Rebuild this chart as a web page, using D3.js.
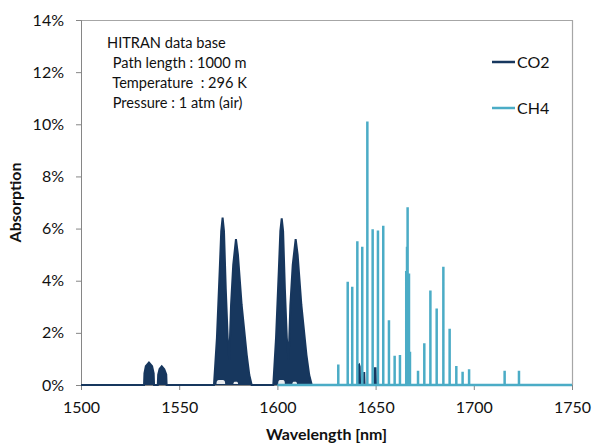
<!DOCTYPE html>
<html>
<head>
<meta charset="utf-8">
<script src="https://cdn.jsdelivr.net/npm/d3@7"></script>
<style>
  body { margin: 0; background: #fff; }
  svg text { font-family: Lato, "Open Sans", sans-serif; fill: #111; }
</style>
</head>
<body>
<div id="chart"></div>
<script>
// x ticks and y ticks
var xTicks = [1500, 1550, 1600, 1650, 1700, 1750];
var yTicks = [0, 2, 4, 6, 8, 10, 12, 14];

// CO2 envelope points [wavelength nm, absorption %]
var co2Band153 = [
    [1532.1, 0], [1532.3, 0.45], [1533.0, 0.72], [1534.6, 0.86], [1536.2, 0.72], [1537.0, 0.45], [1537.2, 0],
    [1539.1, 0], [1539.3, 0.4], [1540.0, 0.62], [1541.1, 0.72], [1542.4, 0.6], [1543.4, 0.4], [1543.6, 0]
];
var co2Band157 = [
    [1567.7, 0], [1569.2, 1.8], [1570.6, 4.35], [1571.4, 5.9], [1572.1, 6.42], [1572.8, 5.9], [1573.7, 3.7],
    [1574.7, 1.8], [1575.5, 0.96], [1576.4, 3.07], [1577.5, 4.6], [1578.9, 5.6], [1579.9, 5.0], [1581.8, 3.07],
    [1584.4, 1.15], [1585.7, 0.38], [1586.9, 0]
];
var co2Band160 = [
    [1597.9, 0], [1599.3, 1.8], [1600.7, 4.35], [1601.5, 5.9], [1602.2, 6.39], [1602.9, 5.9], [1603.8, 3.7],
    [1604.8, 1.8], [1605.7, 0.96], [1606.6, 3.07], [1607.8, 4.6], [1609.3, 5.6], [1610.3, 5.0], [1612.2, 3.07],
    [1614.8, 1.15], [1616.2, 0.38], [1617.5, 0]
];
var co2Weak = [
    [1641.0, 0], [1641.2, 0.75], [1641.6, 0.78], [1641.9, 0.7], [1642.1, 0],
    [1644.1, 0], [1644.2, 0.5], [1644.4, 0],
    [1649.4, 0], [1649.6, 0.64], [1650.0, 0.64], [1650.2, 0]
];
// sparse spots at the band centres: [from nm, to nm, height %]
var co2Gaps = [[1569.0, 1573.4, 0.19], [1577.6, 1580.0, 0.12], [1600.4, 1603.8, 0.19], [1607.6, 1610.0, 0.12]];

// CH4 lines
var ch4Wavelength = [1631.0, 1635.8, 1638.1, 1640.7, 1643.2, 1645.8, 1648.5, 1651.2, 1653.9, 1656.8,
    1659.7, 1662.4, 1665.6, 1666.0, 1666.3, 1667.0, 1667.5, 1671.6, 1674.8, 1677.9,
    1681.1, 1684.5, 1687.7, 1691.1, 1694.3, 1697.6, 1715.7, 1723.0];
var ch4Absorption = [0.79, 3.96, 3.77, 5.51, 5.30, 10.11, 5.97, 5.93, 6.11, 2.48,
    1.12, 1.15, 4.37, 5.30, 6.82, 4.28, 1.28, 0.55, 1.60, 3.62,
    2.93, 4.54, 2.16, 0.73, 0.51, 0.60, 0.55, 0.55];

var infoLines = ["HITRAN data base", " Path length : 1000 m", " Temperature  : 296 K", " Pressure : 1 atm (air)"];

var co2Color = "#17375E", ch4Color = "#4BACC6";

var margin = {top: 20, right: 20, bottom: 58, left: 81},
    width = 592 - margin.left - margin.right,
    height = 443 - margin.top - margin.bottom;

var svg = d3.select("#chart")
    .append("svg")
        .attr("width", 592)
        .attr("height", 443)
    .append("g")
        .attr("transform", "translate(" + margin.left + "," + margin.top + ")");

var x = d3.scaleLinear().domain([1500, 1750]).range([0, width]);
var y = d3.scaleLinear().domain([0, 14]).range([height, 0]);

// plot frame (top and right)
svg.append("path")
    .attr("d", "M0,0.5H" + (width + 0.5) + "V" + height)
    .attr("fill", "none")
    .attr("stroke", "#A6A6A6")
    .attr("stroke-width", 1.2);

var xAxis = svg.append("g")
    .attr("transform", "translate(0," + height + ")")
    .call(d3.axisBottom(x).tickValues(xTicks).tickSize(5).tickPadding(12).tickFormat(d3.format("d")));
var yAxis = svg.append("g")
    .call(d3.axisLeft(y).tickValues(yTicks).tickSize(5).tickPadding(12).tickFormat(d => d + "%"));

[xAxis, yAxis].forEach(function(a) {
    a.select(".domain").attr("stroke", "#868686");
    a.selectAll(".tick line").attr("stroke", "#868686");
    a.selectAll("text").style("font-size", "16px").attr("fill", "#111");
});

// CO2 series
var co2Data = [[1500, 0]].concat(co2Band153, co2Band157, co2Band160, co2Weak, [[1670, 0]]);
svg.append("path")
    .datum(co2Data)
    .attr("fill", co2Color)
    .attr("d", d3.area().x(d => x(d[0])).y0(y(0)).y1(d => y(d[1])));
svg.append("path")
    .datum(co2Data)
    .attr("fill", "none")
    .attr("stroke", co2Color)
    .attr("stroke-width", 2)
    .attr("d", d3.line().x(d => x(d[0])).y(d => y(d[1])));

// light notches at the band bottoms
svg.append("g").selectAll("path")
    .data(co2Gaps)
    .enter()
    .append("path")
    .attr("fill", "#fff")
    .attr("opacity", 0.9)
    .attr("d", g => d3.area().curve(d3.curveBasis).x(d => x(d[0])).y0(y(0) - 1).y1(d => y(d[1]))(
        [[g[0], 0], [g[0], g[2]], [(g[0] + g[1]) / 2, g[2]], [g[1], g[2]], [g[1], 0]]));

// CH4 series: baseline with narrow spikes
var ch4Data = [[1600, 0]];
ch4Wavelength.forEach(function(w, i) {
    ch4Data.push([w, 0], [w, ch4Absorption[i]], [w, 0]);
});
ch4Data.push([1750, 0]);
svg.append("path")
    .datum(ch4Data)
    .attr("fill", "none")
    .attr("stroke", ch4Color)
    .attr("stroke-width", 2.5)
    .attr("stroke-linejoin", "bevel")
    .attr("d", d3.line().x(d => x(d[0])).y(d => y(d[1])));

// info text
svg.append("g").selectAll("text")
    .data(infoLines)
    .enter()
    .append("text")
    .attr("x", (d, i) => i === 0 ? 26 : 28)
    .attr("y", (d, i) => 28 + i * 20)
    .style("font-size", "14.6px")
    .style("white-space", "pre")
    .text(d => d);

// legend
var legend = svg.append("g").selectAll("g")
    .data([["CO2", co2Color], ["CH4", ch4Color]])
    .enter()
    .append("g")
    .attr("transform", (d, i) => "translate(411," + (42 + i * 46) + ")");
legend.append("line")
    .attr("x1", 0).attr("x2", 23)
    .attr("stroke", d => d[1])
    .attr("stroke-width", 2.5);
legend.append("text")
    .attr("x", 25)
    .attr("y", 6)
    .style("font-size", "16px")
    .text(d => d[0]);

// axis titles
svg.append("text")
    .attr("transform", "translate(-60," + (height / 2) + ") rotate(-90)")
    .attr("text-anchor", "middle")
    .style("font-size", "16px")
    .style("font-weight", "bold")
    .text("Absorption");
svg.append("text")
    .attr("x", width / 2)
    .attr("y", height + 55)
    .attr("text-anchor", "middle")
    .style("font-size", "16px")
    .style("font-weight", "bold")
    .text("Wavelength [nm]");
</script>
</body>
</html>
